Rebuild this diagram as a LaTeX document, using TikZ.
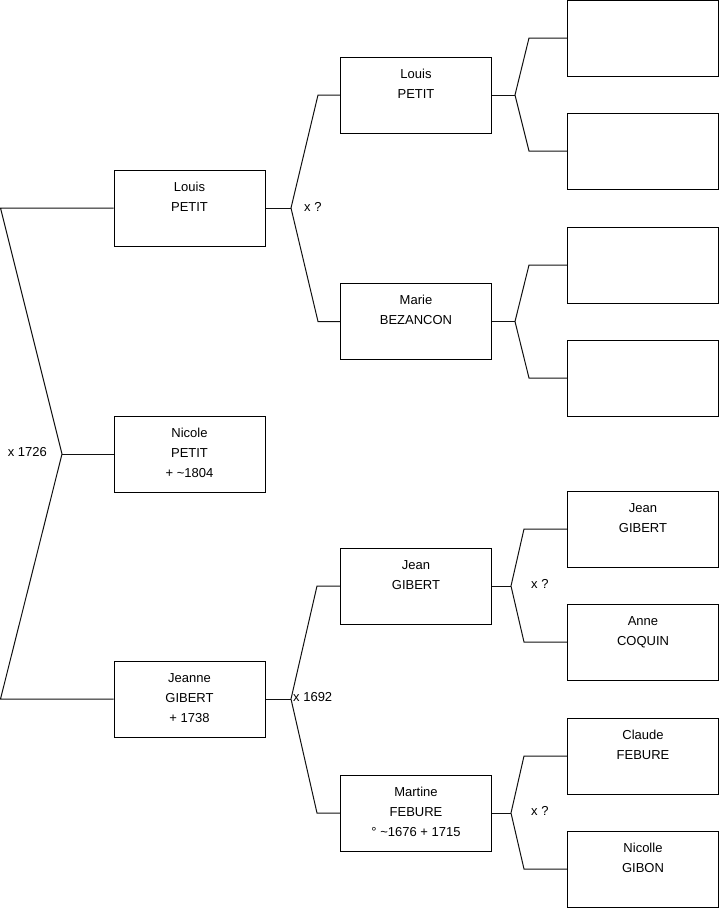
\documentclass[tikz,border=0pt]{standalone}
\usepackage{fontspec}
\setmainfont{Liberation Sans}
\usepackage{tikz}
\usetikzlibrary{calc}
\definecolor{ln}{HTML}{111111}
\newcommand{\famtxt}[1]{\parbox[c][76pt][t]{151pt}{\centering\fontsize{13}{20}\selectfont\rule{0pt}{21pt}#1}}

\begin{document}
\begin{tikzpicture}[x=1pt,y=-1pt,
  person/.style={draw=black,line width=1pt,minimum width=151pt,minimum height=76pt,inner sep=0pt},
  link/.style={draw=ln,line width=1pt},
  wed/.style={inner sep=0pt,font=\fontsize{13}{15}\selectfont}]
\useasboundingbox (0,0) rectangle (719,908);
% generation 1
\node[person] (lpetit) at (189.5,208) {\famtxt{Louis\\PETIT}};
\node[person] (npetit) at (189.5,454) {\famtxt{Nicole\\PETIT\\+ \textasciitilde1804}};
\node[person] (jgibert) at (189.5,699) {\famtxt{Jeanne\\GIBERT\\+ 1738}};
% generation 2
\node[person] (lpetitp) at (416,95) {\famtxt{Louis\\PETIT}};
\node[person] (mbezancon) at (416,321.5) {\famtxt{Marie\\BEZANCON}};
\node[person] (jgibertp) at (416,586) {\famtxt{Jean\\GIBERT}};
\node[person] (mfebure) at (416,813) {\famtxt{Martine\\FEBURE\\\textdegree{} \textasciitilde1676 + 1715}};
% generation 3
\node[person] (ga) at (643,38) {};
\node[person] (gb) at (643,151) {};
\node[person] (gc) at (643,265) {};
\node[person] (gd) at (643,378) {};
\node[person] (jgibertg) at (643,529) {\famtxt{Jean\\GIBERT}};
\node[person] (acoquin) at (643,642) {\famtxt{Anne\\COQUIN}};
\node[person] (cfebure) at (643,756) {\famtxt{Claude\\FEBURE}};
\node[person] (ngibon) at (643,869) {\famtxt{Nicolle\\GIBON}};

% forks
\coordinate (fa) at (62,454);
\coordinate (fb) at (291,208);
\coordinate (fc) at (291,699);
\coordinate (fd) at (515,95);
\coordinate (fe) at (515,321.5);
\coordinate (ff) at (511,586);
\coordinate (fg) at (511,813);

\draw[link] (lpetit.west) -- ++(-113,0) -- (fa) -- ([xshift=-113pt]jgibert.west) -- (jgibert.west);
\draw[link] (fa) -- (npetit.west);
\draw[link] (lpetit.east) -- (fb);
\draw[link] (lpetitp.west) -- ++(-22,0) -- (fb) -- ([xshift=-22pt]mbezancon.west) -- (mbezancon.west);
\draw[link] (jgibert.east) -- (fc);
\draw[link] (jgibertp.west) -- ++(-23,0) -- (fc) -- ([xshift=-23pt]mfebure.west) -- (mfebure.west);
\draw[link] (lpetitp.east) -- (fd);
\draw[link] (ga.west) -- ++(-38,0) -- (fd) -- ([xshift=-38pt]gb.west) -- (gb.west);
\draw[link] (mbezancon.east) -- (fe);
\draw[link] (gc.west) -- ++(-38,0) -- (fe) -- ([xshift=-38pt]gd.west) -- (gd.west);
\draw[link] (jgibertp.east) -- (ff);
\draw[link] (jgibertg.west) -- ++(-43,0) -- (ff) -- ([xshift=-43pt]acoquin.west) -- (acoquin.west);
\draw[link] (mfebure.east) -- (fg);
\draw[link] (cfebure.west) -- ++(-43,0) -- (fg) -- ([xshift=-43pt]ngibon.west) -- (ngibon.west);

% marriages
\node[wed,anchor=east] (m1) at (47,452) {x 1726};
\node[wed,anchor=west] (m2) at (304,207) {x ?};
\node[wed,anchor=west] (m3) at (293,697) {x 1692};
\node[wed,anchor=west] (m4) at (531,584) {x ?};
\node[wed,anchor=west] (m5) at (531,811) {x ?};
\end{tikzpicture}
\end{document}
